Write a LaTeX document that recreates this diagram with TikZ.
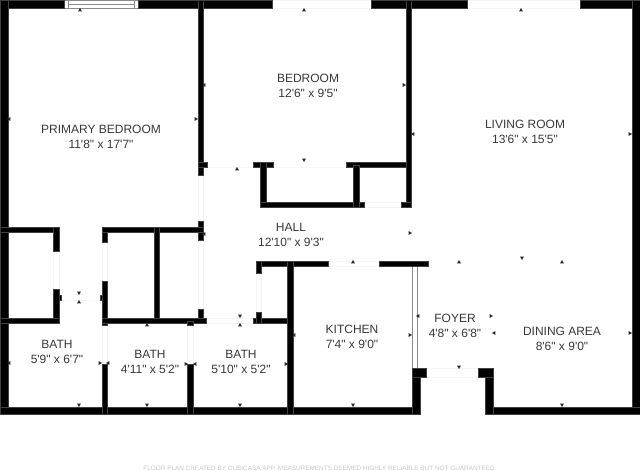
\documentclass[tikz,border=0pt]{standalone}
\usepackage{fontspec}
\usepackage{tikz}
\newfontfamily\planfont{Liberation Sans}

\begin{document}
\begin{tikzpicture}[x=1pt,y=-1pt]
\tikzstyle{wall}=[fill=black,draw=black!75,line width=0.4pt]
\tikzstyle{opening}=[draw=black!4,line width=0.4pt]
\tikzstyle{glass}=[draw=black!45,line width=0.7pt]
\tikzstyle{marker}=[fill=black!85]
\tikzstyle{room}=[align=center,text=black!78,inner sep=0pt,yshift=-0.7pt,font=\planfont\fontsize{12}{15}\selectfont]
\useasboundingbox (0,0) rectangle (640,471);

% door gaps and open wall runs
\foreach \xa/\ya/\xb/\yb in {272/0/371/8,467/0/580/8,198/175/203/221,198/240/203/309,53/251/59/289,59/300/102/300,
	102/242/107/281,102/323/107/364,187/325/193/364,206/318/253/323,256/273/261/312,207/167/253/167,273/167/346/167,
	364/202/401/207,426/368/478/377,328/261/379/266}
	\draw[opening] (\xa,\ya) rectangle (\xb,\yb);

% window over primary bedroom and glass by the foyer
\draw[glass] (64,0) rectangle (138,8);
\draw[glass] (68,0) -- (68,8) (134,0) -- (134,8) (68,4.5) -- (134,4.5);
\draw[glass] (412.5,266) rectangle (417.5,368);

% walls
\foreach \xa/\ya/\xb/\yb in {0/0/64/8,138/0/272/8,371/0/467/8,580/0/640/8,0/0/8/414,632/0/640/414,0/407/420/414,485/407/640/414,
	198/0/203/175,198/162/207/167,198/221/203/240,198/309/203/320,253/162/273/167,260/162/266/207,260/202/364/207,
	346/162/408/167,353/165/359/207,406/0/411/207,401/202/411/207,
	0/227/59/232,53/227/59/251,53/289/59/323,59/295/61/300,0/318/59/323,
	102/227/107/242,102/281/107/325,100/295/102/300,102/227/203/232,154/227/159/320,102/318/206/323,
	253/318/288/323,256/312/261/323,256/261/328/266,256/261/261/273,287.5/261/293/414,379/261/428/266,
	412/368/420/414,412/368/426/377,485/368/493/414,478/368/493/377,102/364/107/414,187/364/193/414,187/321/193/325}
	\fill[wall] (\xa,\ya) rectangle (\xb,\yb);

% measure marks (x/y/direction)
\foreach \x/\y/\d in {80/10/90,304/10/90,521/10/90,237/169/90,147/325/90,79/302/90,240/325/90,353/262/90,459/262/90,562/262/90,
	304/160/270,79/293/270,240/316/270,79/405/270,147/405/270,240/405/270,353/405/270,562/405/270,459/367/270,522/258/270,
	9/119/180,204/85/180,413/134/180,9/363/180,108/363/180,195/364/180,294/335/180,204/234/180,418/316/180,494/333/180,
	196/119/0,404/85/0,630/134/0,410/233/0,100/363/0,186/364/0,286/364/0,410/335/0,491/316/0,630/333/0}
	\fill[marker] (\x,\y) ++(\d:2pt) -- ++(\d+150:4pt) -- ++(\d-90:4pt) -- cycle;

% room labels
\node[room] (primary) at (101,136.5) {PRIMARY BEDROOM\\11'8" x 17'7"};
\node[room] (bedroom) at (308,85) {BEDROOM\\12'6" x 9'5"};
\node[room] (living) at (525,131.5) {LIVING ROOM\\13'6" x 15'5"};
\node[room] (hall) at (291,234) {HALL\\12'10" x 9'3"};
\node[room] (bathone) at (57,351.5) {BATH\\5'9" x 6'7"};
\node[room] (bathtwo) at (150,361.5) {BATH\\4'11" x 5'2"};
\node[room] (baththree) at (241,361.5) {BATH\\5'10" x 5'2"};
\node[room] (kitchen) at (352,336) {KITCHEN\\7'4" x 9'0"};
\node[room] (foyer) at (455,325.5) {FOYER\\4'8" x 6'8"};
\node[room] (dining) at (562,338.5) {DINING AREA\\8'6" x 9'0"};
\node[text=black!22,inner sep=0pt,font=\planfont\fontsize{6.4}{8}\selectfont] (credit) at (320,468)
	{FLOOR PLAN CREATED BY CUBICASA APP. MEASUREMENTS DEEMED HIGHLY RELIABLE BUT NOT GUARANTEED.};
\end{tikzpicture}
\end{document}
